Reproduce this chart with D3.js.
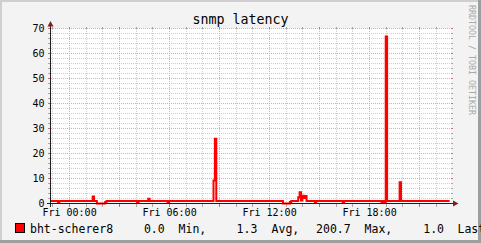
<!DOCTYPE html>
<html>
<head>
<meta charset="utf-8">
<script src="https://cdn.jsdelivr.net/npm/d3@7"></script>
<style>
  body { margin: 0; background: #f3f3f3; }
  svg { display: block; }
  text { font-family: "DejaVu Sans Mono", monospace; }
</style>
</head>
<body>
<svg width="481" height="243"></svg>
<script>
// step change points of the latency series (value holds until next time)
const sampleTimes = [
  "2009-12-31 22:55", "2009-12-31 23:20", "2009-12-31 23:25",
  "2010-01-01 01:25", "2010-01-01 01:30", "2010-01-01 01:40", "2010-01-01 02:10", "2010-01-01 02:15",
  "2010-01-01 04:05", "2010-01-01 04:10", "2010-01-01 04:45", "2010-01-01 04:50",
  "2010-01-01 05:55", "2010-01-01 06:00",
  "2010-01-01 08:40", "2010-01-01 08:45", "2010-01-01 08:50",
  "2010-01-01 12:50", "2010-01-01 13:15", "2010-01-01 13:20",
  "2010-01-01 13:45", "2010-01-01 13:50", "2010-01-01 13:55", "2010-01-01 14:00",
  "2010-01-01 14:05", "2010-01-01 14:10", "2010-01-01 14:15",
  "2010-01-01 14:45", "2010-01-01 14:50", "2010-01-01 16:25", "2010-01-01 16:30",
  "2010-01-01 18:45", "2010-01-01 18:50", "2010-01-01 18:55", "2010-01-01 19:00", "2010-01-01 19:05",
  "2010-01-01 19:50", "2010-01-01 19:55", "2010-01-01 22:50"
];
const latency = [
  1.0, 0.4, 1.0,
  2.8, 1.0, 0.0, 0.6, 1.0,
  0.4, 1.0, 1.9, 1.0,
  0.5, 1.0,
  9.2, 25.9, 1.0,
  0.0, 0.6, 1.0,
  2.5, 4.5, 1.2, 3.1,
  2.2, 3.0, 1.0,
  0.4, 1.0, 0.4, 1.0,
  0.4, 1.0, 0.4, 66.8, 1.0,
  8.5, 1.0, 1.0
];
const yTicks = [0, 10, 20, 30, 40, 50, 60, 70];
const xLabelTimes = ["2010-01-01 00:00", "2010-01-01 06:00", "2010-01-01 12:00", "2010-01-01 18:00"];
const timeStart = "2009-12-31 22:55";
const timeEnd = "2010-01-01 22:55";

const seriesName = "bht-scherer8";
const statLabels = ["Min,", "Avg,", "Max,", "Last"];
const statValues = [0.0, 1.3, 200.7, 1.0];

const parse = d3.timeParse("%Y-%m-%d %H:%M");
const data = sampleTimes.map((t, i) => ({ t: parse(t), v: latency[i] }));

const svg = d3.select("svg");
const W = 481, H = 243;
const pLeft = 51, pRight = 451, pTop = 28.5, pBottom = 203.5;

const x = d3.scaleTime().domain([parse(timeStart), parse(timeEnd)]).range([pLeft, pRight]);
const y = d3.scaleLinear().domain([0, 70]).range([pBottom, pTop]);

// background + shading border
svg.append("rect").attr("width", W).attr("height", H).attr("fill", "#f3f3f3");
svg.append("path").attr("d", `M0,0H${W}V2H2V${H}H0Z`).attr("fill", "#cfcfcf");
svg.append("path").attr("d", `M${W},0V${H}H0V${H - 3}H${W - 3}V0Z`).attr("fill", "#9e9e9e");
svg.append("rect").attr("x", pLeft).attr("y", pTop).attr("width", pRight - pLeft).attr("height", pBottom - pTop).attr("fill", "#fff");

// grid
const grid = svg.append("g").attr("shape-rendering", "crispEdges");
const minorY = d3.range(0, 71, 2);
minorY.forEach(v => {
  const major = v % 10 === 0;
  const c = major ? "#eaa6a6" : "#cfcfcf";
  grid.append("line").attr("x1", pLeft).attr("x2", pRight).attr("y1", y(v)).attr("y2", y(v))
    .attr("stroke", c).attr("stroke-dasharray", "1,1");
  grid.append("line").attr("x1", pLeft - 3).attr("x2", pLeft).attr("y1", y(v)).attr("y2", y(v)).attr("stroke", major ? "#d46a6a" : "#a8a8a8");
  grid.append("line").attr("x1", pRight).attr("x2", pRight + 2).attr("y1", y(v)).attr("y2", y(v)).attr("stroke", major ? "#d46a6a" : "#a8a8a8");
});
const hours = d3.timeHour.range(x.domain()[0], x.domain()[1]);
hours.forEach(h => {
  const major = h.getHours() % 3 === 0;
  const c = major ? "#eaa6a6" : "#cfcfcf";
  const xx = Math.round(x(h)) + 0.5;
  grid.append("line").attr("x1", xx).attr("x2", xx).attr("y1", pTop).attr("y2", pBottom)
    .attr("stroke", c).attr("stroke-dasharray", "1,1");
  grid.append("line").attr("x1", xx).attr("x2", xx).attr("y1", pBottom).attr("y2", pBottom + 3).attr("stroke", major ? "#d46a6a" : "#a8a8a8");
  grid.append("line").attr("x1", xx).attr("x2", xx).attr("y1", pTop - 2).attr("y2", pTop).attr("stroke", major ? "#d46a6a" : "#a8a8a8");
});

// data line
const line = d3.line().x(d => x(d.t)).y(d => y(d.v)).curve(d3.curveStepAfter);
svg.append("path").datum(data).attr("d", line)
  .attr("fill", "none").attr("stroke", "#ff0000").attr("stroke-width", 2);

// axes
const ax = svg.append("g").attr("shape-rendering", "crispEdges");
ax.append("line").attr("x1", 47).attr("x2", 454).attr("y1", pBottom).attr("y2", pBottom).attr("stroke", "#1f1f1f");
ax.append("line").attr("x1", pLeft - 0.5).attr("x2", pLeft - 0.5).attr("y1", 207).attr("y2", 25).attr("stroke", "#1f1f1f");
svg.append("path").attr("d", `M453,200.5L458.5,203.5L453,206.5Z`).attr("fill", "#801f1f");
svg.append("path").attr("d", `M47.5,26.5L50.5,21L53.5,26.5Z`).attr("fill", "#801f1f");

// y labels
svg.append("g").selectAll("text").data(yTicks).join("text")
  .attr("x", 44.5).attr("y", d => y(d) + 3.6)
  .attr("text-anchor", "end").attr("font-size", 10).attr("fill", "#000")
  .text(d => d);

// x labels via axis
const xAxis = d3.axisBottom(x)
  .tickValues(xLabelTimes.map(parse))
  .tickFormat(d3.timeFormat("%a %H:%M"))
  .tickSize(0).tickPadding(0);
const xg = svg.append("g").attr("transform", `translate(0,${pBottom})`).call(xAxis);
xg.select(".domain").remove();
xg.selectAll("text").attr("font-family", "DejaVu Sans Mono").attr("font-size", 10)
  .attr("fill", "#000").attr("dy", null).attr("y", 12);

// title
svg.append("text").attr("x", 240.5).attr("y", 24).attr("text-anchor", "middle")
  .attr("font-size", 13.3).attr("fill", "#000").text("snmp latency");

// watermark
svg.append("text").attr("transform", "translate(468.5,5) rotate(90)")
  .attr("font-size", 8.3).attr("fill", "#a9a9a9").text("RRDTOOL / TOBI OETIKER");

// legend
const lg = svg.append("g").attr("font-size", 11.5).attr("fill", "#000");
lg.append("rect").attr("x", 15.5).attr("y", 223.5).attr("width", 9).attr("height", 9)
  .attr("fill", "#ff0000").attr("stroke", "#000").attr("stroke-width", 1);
lg.append("text").attr("x", 30).attr("y", 232.5).text(seriesName);
const valueEnds = [164.7, 257.4, 350.7, 444];
const labelStarts = [178.6, 271.6, 364.6, 457.5];
statValues.forEach((v, i) => {
  lg.append("text").attr("x", valueEnds[i]).attr("y", 232.5).attr("text-anchor", "end").text(v.toFixed(1));
  lg.append("text").attr("x", labelStarts[i]).attr("y", 232.5).text(statLabels[i]);
});
</script>
</body>
</html>
